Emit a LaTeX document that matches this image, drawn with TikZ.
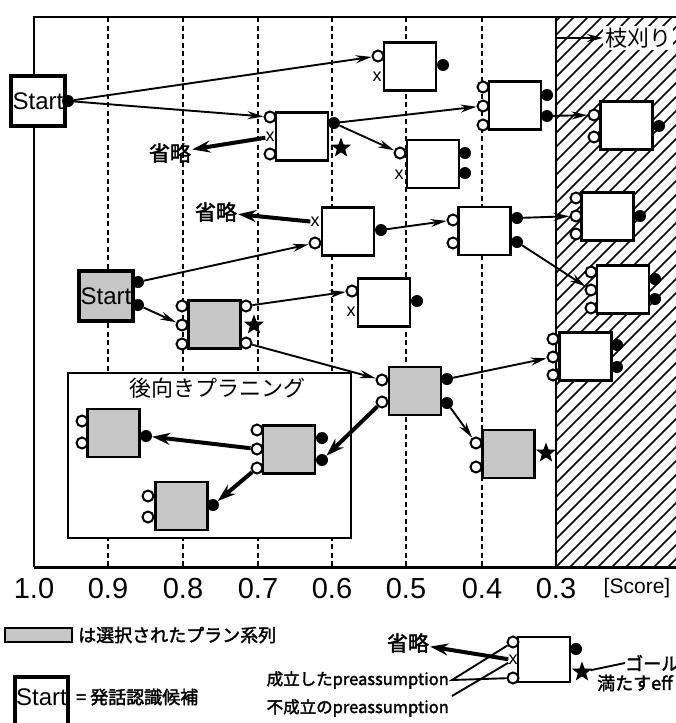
\documentclass[tikz,border=0pt]{standalone}
\usepackage{fontspec}
\setmainfont{Liberation Sans}
\newfontfamily\jp{Noto Sans CJK JP}
\newfontfamily\jpb{Noto Sans CJK JP}[FakeBold=2]
\usetikzlibrary{arrows.meta,shapes.geometric}

\begin{document}
\begin{tikzpicture}
    [x=1pt, y=-1pt,
    plan/.style={draw, line width=2.4pt, fill=white, minimum width=52pt, minimum height=48pt, inner sep=0pt},
    chosen/.style={plan, fill=gray!45},
    startbox/.style={plan, line width=3.4pt, minimum width=54pt, minimum height=50pt, font=\fontsize{24}{24}\selectfont},
    pin/.style={circle, draw, line width=2pt, fill=white, minimum size=11pt, inner sep=0pt},
    pout/.style={circle, fill=black, minimum size=12pt, inner sep=0pt},
    nogo/.style={inner sep=0pt, font=\fontsize{18}{18}\selectfont},
    goal/.style={star, star points=5, star point ratio=2.4, fill=black, inner sep=0pt, minimum size=21pt},
    link/.style={line width=1.9pt, -{Stealth[length=16pt, width=8pt]}},
    skip/.style={line width=4pt, -{Stealth[length=18pt, width=12pt]}},
    omit/.style={inner sep=1pt, font=\jpb\fontsize{21}{21}\selectfont},
    tick/.style={font=\fontsize{29}{29}\selectfont},
    keytext/.style={anchor=west, inner sep=0pt, font=\jpb\fontsize{18}{18}\selectfont}]

    \useasboundingbox (0,0) rectangle (676,723);
    \clip (0,0) rectangle (676,723);

    % frame, score lines and pruned area
    \draw[line width=1.8pt] (34,567) -- (34,17) -- (676,17);
    \foreach \x in {108,183,258,332,406,482}
        \draw[line width=1.8pt, dash pattern=on 5pt off 3.5pt] (\x,17) -- (\x,567);
    \begin{scope}
        \clip (556,17) rectangle (676,567);
        \foreach \k in {-560,-546,...,130}
            \draw[line width=1.6pt] (556+\k,567) -- (1106+\k,17);
    \end{scope}
    \draw[line width=2.4pt] (556,17) -- (556,567);
    \draw[line width=3pt] (34,567) -- (676,567);

    \node[tick] (t10) at (34,589) {1.0};
    \node[tick] (t09) at (108,589) {0.9};
    \node[tick] (t08) at (183,589) {0.8};
    \node[tick] (t07) at (258,589) {0.7};
    \node[tick] (t06) at (332,589) {0.6};
    \node[tick] (t05) at (406,589) {0.5};
    \node[tick] (t04) at (482,589) {0.4};
    \node[tick] (t03) at (556,589) {0.3};
    \node[font=\fontsize{21}{21}\selectfont] (score) at (637,588) {[Score]};

    \node[fill=white, inner sep=2pt, anchor=west, font=\jp\fontsize{22}{22}\selectfont] (prune) at (603,38) {枝刈り};
    \coordinate (prunefrom) at (557,38);
    \draw[link] (prunefrom) -- (prune);

    % backward planning
    \node[draw, fill=white, line width=1.9pt, minimum width=283pt, minimum height=165pt] (back) at (209.5,455.5) {};
    \node[font=\jp\fontsize{22}{22}\selectfont] (backtitle) at (217,388) {後向きプラニング};

    % plans
    \node[startbox] (start) at (38,101) {Start};
    \node[pout] (start-out) at (68,101) {};

    \node[plan] (a) at (410,66.5) {};
    \node[pin] (a-in) at (378,56) {};
    \node[nogo] (a-x) at (377,77) {x};
    \node[pout] (a-out) at (443,65) {};

    \node[plan] (b) at (302,136.5) {};
    \node[pin] (b-in1) at (270,117) {};
    \node[nogo] (b-x) at (270,137) {x};
    \node[pin] (b-in3) at (270,154) {};
    \node[pout] (b-out) at (334,123) {};
    \node[goal] (b-goal) at (341,148) {};

    \node[plan] (c) at (515,105.5) {};
    \node[pin] (c-in1) at (483,87) {};
    \node[pin] (c-in2) at (483,106) {};
    \node[pin] (c-in3) at (483,125) {};
    \node[pout] (c-out1) at (547,95) {};
    \node[pout] (c-out2) at (547,116) {};

    \node[plan] (d) at (433,164) {};
    \node[pin] (d-in) at (400,153) {};
    \node[nogo] (d-x) at (399,175) {x};
    \node[pout] (d-out1) at (465,153) {};
    \node[pout] (d-out2) at (465,173) {};

    \node[plan] (e) at (626.5,125.5) {};
    \node[pin] (e-in1) at (594,115) {};
    \node[pin] (e-in2) at (594,137) {};
    \node[pout] (e-out) at (659,126) {};

    \node[plan] (f) at (348,231.5) {};
    \node[nogo] (f-x) at (315,222) {x};
    \node[pin] (f-in) at (315,243) {};
    \node[pout] (f-out) at (381,230) {};

    \node[plan] (g) at (484.5,231) {};
    \node[pin] (g-in1) at (453,220) {};
    \node[pin] (g-in2) at (453,243) {};
    \node[pout] (g-out1) at (517,218) {};
    \node[pout] (g-out2) at (517,242) {};

    \node[plan] (h) at (607.5,216.5) {};
    \node[pin] (h-in1) at (576,198) {};
    \node[pin] (h-in2) at (576,216) {};
    \node[pin] (h-in3) at (576,234) {};
    \node[pout] (h-out) at (640,216) {};

    \node[plan] (j) at (623,289.5) {};
    \node[pin] (j-in1) at (591,272) {};
    \node[pin] (j-in2) at (591,290) {};
    \node[pin] (j-in3) at (591,308) {};
    \node[pout] (j-out1) at (655,279) {};
    \node[pout] (j-out2) at (655,299) {};

    \node[plan] (k) at (585.5,356.5) {};
    \node[pin] (k-in1) at (553,339) {};
    \node[pin] (k-in2) at (553,357) {};
    \node[pin] (k-in3) at (553,375) {};
    \node[pout] (k-out1) at (617,345) {};
    \node[pout] (k-out2) at (617,367) {};

    \node[startbox, fill=gray!45] (start2) at (106,296) {Start};
    \node[pout] (start2-out1) at (138,282) {};
    \node[pout] (start2-out2) at (138,305) {};

    \node[chosen] (q) at (214.5,324.5) {};
    \node[pin] (q-in1) at (182,306) {};
    \node[pin] (q-in2) at (182,325) {};
    \node[pin] (q-in3) at (182,344) {};
    \node[pin] (q-out1) at (246,306) {};
    \node[pin] (q-out2) at (246,343) {};
    \node[goal] (q-goal) at (254,325) {};

    \node[plan] (p) at (384,302.5) {};
    \node[pin] (p-in) at (352,291) {};
    \node[nogo] (p-x) at (351,312) {x};
    \node[pout] (p-out) at (417,301) {};

    \node[chosen] (m) at (415,391) {};
    \node[pin] (m-in1) at (382,380) {};
    \node[pin] (m-in2) at (382,402) {};
    \node[pout] (m-out1) at (447,379) {};
    \node[pout] (m-out2) at (447,403) {};

    \node[chosen] (n) at (508.5,454) {};
    \node[pin] (n-in1) at (476,443) {};
    \node[pin] (n-in2) at (476,467) {};
    \node[goal] (n-goal) at (546,453) {};

    \node[chosen] (r) at (113.5,433) {};
    \node[pin] (r-in1) at (82,421) {};
    \node[pin] (r-in2) at (82,443) {};
    \node[pout] (r-out) at (146,436) {};

    \node[chosen] (s) at (289,449.5) {};
    \node[pin] (s-in1) at (257,430) {};
    \node[pin] (s-in2) at (257,449) {};
    \node[pin] (s-in3) at (257,468) {};
    \node[pout] (s-out1) at (322,438) {};
    \node[pout] (s-out2) at (322,460) {};

    \node[chosen] (t) at (181.5,506) {};
    \node[pin] (t-in1) at (148,496) {};
    \node[pin] (t-in2) at (148,517) {};
    \node[pout] (t-out) at (213,505) {};

    \node[omit] (omit1) at (170,153) {省略};
    \node[omit] (omit2) at (216,212) {省略};

    % expansions
    \draw[link] (start-out) -- (a-in);
    \draw[link] (start-out) -- (b-in1);
    \draw[skip] (b-x) -- (omit1);
    \draw[link] (b-out) -- (c-in2);
    \draw[link] (b-out) -- (d-in);
    \draw[link] (c-out2) -- (e-in1);
    \draw[skip] (f-x) -- (omit2);
    \draw[link] (start2-out1) -- (f-in);
    \draw[link] (f-out) -- (g-in1);
    \draw[link] (g-out1) -- (h-in2);
    \draw[link] (g-out2) -- (j-in2);
    \draw[link] (start2-out2) -- (q-in2);
    \draw[link] (q-out1) -- (p-in);
    \draw[link] (q-out2) -- (m-in1);
    \draw[link] (m-out1) -- (k-in2);
    \draw[link] (m-out2) -- (n-in1);
    \draw[skip] (m-in2) -- (s-out2);
    \draw[skip] (s-in2) -- (r-out);
    \draw[skip] (s-in3) -- (t-out);

    % legend
    \node[draw, line width=2pt, fill=gray!45, minimum width=67pt, minimum height=14pt, inner sep=0pt] (swatch) at (38.5,635) {};
    \node[keytext] (swatchtext) at (78,635) {は選択されたプラン系列};

    \draw[line width=3.4pt] (15,730) |- (68,677) -- (68,730);
    \node[font=\fontsize{24}{24}\selectfont] (key) at (41.5,697) {Start};
    \node[keytext] (keytext) at (76,697) {= 発話認識候補};

    \node[plan, minimum height=45pt] (l) at (544,659.5) {};
    \node[pin] (l-in1) at (513,642) {};
    \node[nogo] (l-x) at (513,660) {x};
    \node[pin] (l-in2) at (513,678) {};
    \node[pout] (l-out) at (576,649) {};
    \node[goal] (l-goal) at (582,672) {};
    \node[omit] (omit3) at (408,643) {省略};
    \draw[skip] (l-x) -- (omit3);

    \node[anchor=east, inner sep=3pt, font=\jpb\fontsize{16.5}{16.5}\selectfont] (held) at (452,680) {成立したpreassumption};
    \node[anchor=east, inner sep=3pt, font=\jpb\fontsize{16.5}{16.5}\selectfont] (failed) at (452,708) {不成立のpreassumption};
    \draw[line width=1.9pt] (l-in1) -- (held.east) -- (l-in2);
    \draw[line width=1.9pt] (failed.north east) -- (l-x);

    \node[keytext] (goaltext) at (625,663) {ゴール};
    \node[keytext] (goaltext2) at (597,683) {満たすeff};
    \draw[line width=1.9pt] (l-goal) -- (goaltext.west);

\end{tikzpicture}
\end{document}
